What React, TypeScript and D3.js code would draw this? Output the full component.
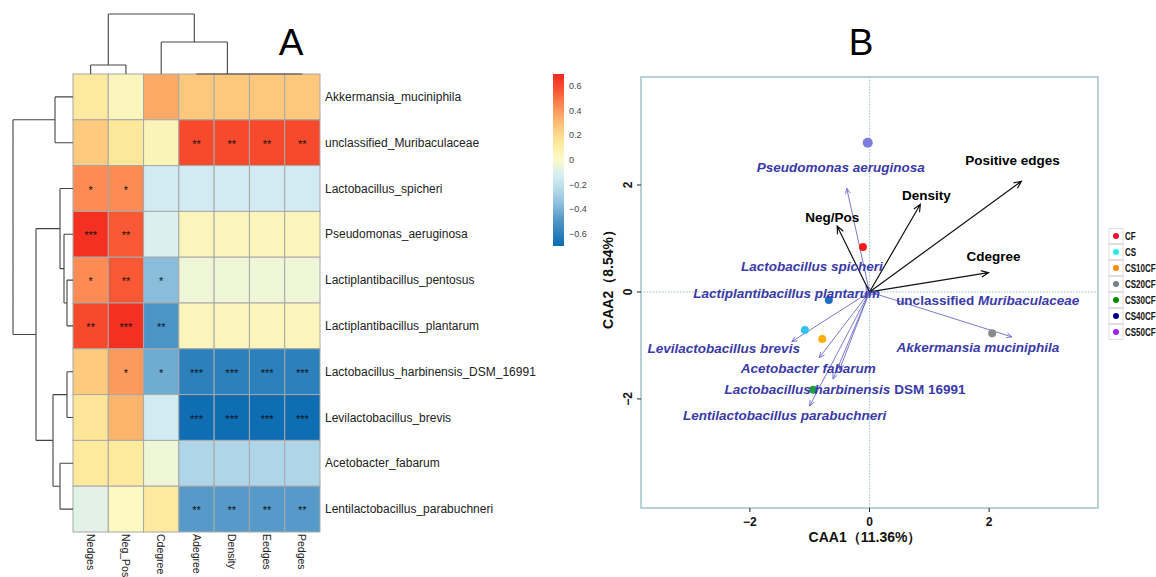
import React from "react";
import * as d3 from "d3";

// ---------- Panel A: correlation heatmap ----------
const species = [
  "Akkermansia_muciniphila",
  "unclassified_Muribaculaceae",
  "Lactobacillus_spicheri",
  "Pseudomonas_aeruginosa",
  "Lactiplantibacillus_pentosus",
  "Lactiplantibacillus_plantarum",
  "Lactobacillus_harbinensis_DSM_16991",
  "Levilactobacillus_brevis",
  "Acetobacter_fabarum",
  "Lentilactobacillus_parabuchneri",
];
const metrics = ["Nedges", "Neg_Pos", "Cdegree", "Adegree", "Density", "Eedges", "Pedges"];

const corr = [
  [0.13, 0.04, 0.36, 0.27, 0.27, 0.27, 0.27],
  [0.26, 0.15, 0.05, 0.6, 0.6, 0.6, 0.6],
  [0.44, 0.44, -0.14, -0.14, -0.14, -0.14, -0.14],
  [0.68, 0.56, -0.11, 0.04, 0.04, 0.04, 0.04],
  [0.44, 0.56, -0.36, -0.04, -0.04, -0.04, -0.04],
  [0.6, 0.68, -0.5, 0.04, 0.04, 0.04, 0.04],
  [0.26, 0.4, -0.42, -0.6, -0.6, -0.6, -0.6],
  [0.16, 0.33, -0.14, -0.69, -0.69, -0.69, -0.69],
  [0.14, 0.14, -0.04, -0.26, -0.26, -0.26, -0.26],
  [-0.08, 0.02, 0.13, -0.48, -0.48, -0.48, -0.48],
];
const signif = [
  ["", "", "", "", "", "", ""],
  ["", "", "", "**", "**", "**", "**"],
  ["*", "*", "", "", "", "", ""],
  ["***", "**", "", "", "", "", ""],
  ["*", "**", "*", "", "", "", ""],
  ["**", "***", "**", "", "", "", ""],
  ["", "*", "*", "***", "***", "***", "***"],
  ["", "", "", "***", "***", "***", "***"],
  ["", "", "", "", "", "", ""],
  ["", "", "", "**", "**", "**", "**"],
];

// dendrograms: [height, left, right] or leaf index
type Tree = number | [number, Tree, Tree];
const rowTree: Tree = [60, [18, 0, 1], [37, [13, 2, [9, 3, [6, 4, 5]]], [20, [6, 6, 7], [13, 8, 9]]]];
const colTree: Tree = [60, [9, 0, 1], [32, 2, [0, 3, [0, 4, [0, 5, 6]]]]];

const legendTicks = [0.6, 0.4, 0.2, 0, -0.2, -0.4, -0.6];
const colorStops = [-0.7, -0.5, -0.3, -0.12, 0, 0.15, 0.3, 0.45, 0.58, 0.7];
const colorRamp = ["#0b6bb2", "#4d94c6", "#a3cfe4", "#d8eef5", "#fafac8", "#fee89a", "#fdbf74", "#fc8752", "#f8502f", "#f32a1f"];

// ---------- Panel B: CCA biplot ----------
const groups = ["CF", "CS", "CS10CF", "CS20CF", "CS30CF", "CS40CF", "CS50CF"];
const groupColors = ["#e8102a", "#22eef2", "#ff8c00", "#708090", "#008b00", "#00008b", "#a020f0"];
const pointColors = ["#ff1a1a", "#33c3f2", "#ffae00", "#8a8a8e", "#1fa040", "#1f6cc2", "#7b7be0"];
const sampleX = [-0.11, -1.08, -0.79, 2.05, -0.94, -0.68, -0.03];
const sampleY = [0.84, -0.71, -0.88, -0.77, -1.83, -0.15, 2.79];

const envNames = ["Positive edges", "Density", "Cdegree", "Neg/Pos"];
const envX = [2.54, 0.85, 1.99, -0.54];
const envY = [2.07, 1.64, 0.36, 1.23];
const envNudge = [[-9, -21], [6, -9], [5, -17], [-5, -9]];

const taxaNames = [
  "Pseudomonas aeruginosa",
  "Lactobacillus spicheri",
  "Lactiplantibacillus plantarum",
  "unclassified Muribaculaceae",
  "Akkermansia muciniphila",
  "Levilactobacillus brevis",
  "Acetobacter fabarum",
  "Lactobacillus harbinensis DSM 16991",
  "Lentilactobacillus parabuchneri",
  "",
];
const taxaX = [-0.38, -0.06, -0.08, 0.12, 2.38, -1.3, -0.84, -0.61, -1.0, -0.5];
const taxaY = [1.94, 0.12, -0.03, -0.04, -0.84, -0.93, -1.23, -1.63, -2.13, -1.45];
const taxaNudge = [[-6, -21], [-54, -20], [-78, -1], [111, 6], [-34, 10], [-68, 6], [-11, 10], [12, 10], [-25, 9], [0, 0]];
const plainWords = ["unclassified", "DSM", "16991"];

const xTicks = [-2, 0, 2];
const yTicks = [2, 0, -2];

function arrowPath(x1: number, y1: number, x2: number, y2: number, len = 7, ang = 0.42) {
  const a = Math.atan2(y2 - y1, x2 - x1);
  return (
    `M${x1},${y1}L${x2},${y2}` +
    `M${x2 - len * Math.cos(a - ang)},${y2 - len * Math.sin(a - ang)}L${x2},${y2}` +
    `L${x2 - len * Math.cos(a + ang)},${y2 - len * Math.sin(a + ang)}`
  );
}

// Walk a dendrogram; returns leaf-axis position and height of the node, collecting segments.
function layoutTree(
  t: Tree,
  leafPos: (i: number) => number,
  segs: string[],
  toPath: (pos: number, h: number, pos2: number, h2: number) => string
): { pos: number; h: number } {
  if (typeof t === "number") return { pos: leafPos(t), h: 0 };
  const [h, l, r] = t;
  const a = layoutTree(l, leafPos, segs, toPath);
  const b = layoutTree(r, leafPos, segs, toPath);
  segs.push(toPath(a.pos, a.h, a.pos, h));
  segs.push(toPath(b.pos, b.h, b.pos, h));
  segs.push(toPath(a.pos, h, b.pos, h));
  return { pos: (a.pos + b.pos) / 2, h };
}

const FONT = "'Liberation Sans', Arial, Helvetica, sans-serif";

export default function App() {
  // heatmap geometry
  const hx0 = 73, hx1 = 320, hy0 = 74, hy1 = 532;
  const xBand = d3.scaleBand<number>().domain(d3.range(metrics.length)).range([hx0, hx1]);
  const yBand = d3.scaleBand<number>().domain(d3.range(species.length)).range([hy0, hy1]);
  const color = d3.scaleLinear<string>().domain(colorStops).range(colorRamp).interpolate(d3.interpolateRgb).clamp(true);

  const rowH = d3.scaleLinear().domain([0, 60]).range([hx0, hx0 - 60]);
  const colH = d3.scaleLinear().domain([0, 60]).range([hy0, hy0 - 60]);
  const rowSegs: string[] = [];
  layoutTree(rowTree, (i) => yBand(i)! + yBand.bandwidth() / 2, rowSegs, (p, h, p2, h2) =>
    `M${rowH(h)},${p}L${rowH(h2)},${p2}`
  );
  const colSegs: string[] = [];
  layoutTree(colTree, (i) => xBand(i)! + xBand.bandwidth() / 2, colSegs, (p, h, p2, h2) =>
    `M${p},${colH(h)}L${p2},${colH(h2)}`
  );

  // color key
  const keyY = d3.scaleLinear().domain([-0.7, 0.7]).range([246, 74]);
  const keyStops = d3.range(0, 1.0001, 0.05).map((t) => ({ t, c: color(-0.7 + 1.4 * t) }));

  // biplot geometry
  const bx0 = 641, bx1 = 1098, by0 = 77, by1 = 508;
  const sx = d3.scaleLinear().domain([-3.82, 3.82]).range([bx0, bx1]);
  const sy = d3.scaleLinear().domain([-4.04, 4.02]).range([by1, by0]);
  const ox = sx(0), oy = sy(0);
  const frame = "#9ec4cc";

  return (
    <svg
      width={1156}
      height={577}
      style={{ position: "absolute", left: 0, top: 0, background: "#fff" }}
      fontFamily={FONT}
    >
      <rect x={0} y={0} width={1156} height={577} fill="#fff" />

      {/* ---- Panel A ---- */}
      <text x={291} y={55} fontSize={37} textAnchor="middle" fill="#000">A</text>

      {corr.map((row, i) =>
        row.map((v, j) => (
          <rect
            key={`c${i}-${j}`}
            x={xBand(j)}
            y={yBand(i)}
            width={xBand.bandwidth()}
            height={yBand.bandwidth()}
            fill={color(v)}
            stroke="#a8a8a8"
            strokeWidth={1}
          />
        ))
      )}
      {signif.map((row, i) =>
        row.map((s, j) =>
          s ? (
            <text
              key={`s${i}-${j}`}
              x={xBand(j)! + xBand.bandwidth() / 2}
              y={yBand(i)! + yBand.bandwidth() / 2 + 5}
              fontSize={11}
              textAnchor="middle"
              fill="#111"
            >
              {s}
            </text>
          ) : null
        )
      )}
      <path d={rowSegs.join("")} stroke="#444" strokeWidth={1.1} fill="none" />
      <path d={colSegs.join("")} stroke="#444" strokeWidth={1.1} fill="none" />

      {species.map((s, i) => (
        <text key={s} x={hx1 + 5} y={yBand(i)! + yBand.bandwidth() / 2 + 4} fontSize={12} fill="#222">
          {s}
        </text>
      ))}
      {metrics.map((m, j) => (
        <text
          key={m}
          transform={`translate(${xBand(j)! + xBand.bandwidth() / 2 - 4},${hy1 + 2}) rotate(90)`}
          fontSize={10.5}
          fill="#222"
        >
          {m}
        </text>
      ))}

      <defs>
        <linearGradient id="key" x1="0" y1="1" x2="0" y2="0">
          {keyStops.map((s) => (
            <stop key={s.t} offset={s.t} stopColor={s.c} />
          ))}
        </linearGradient>
      </defs>
      <rect x={553} y={74} width={11} height={172} fill="url(#key)" />
      {legendTicks.map((t) => (
        <text key={t} x={569} y={keyY(t) + 3} fontSize={9} fill="#444">
          {t < 0 ? `\u2212${Math.abs(t)}` : `${t}`}
        </text>
      ))}

      {/* ---- Panel B ---- */}
      <text x={861} y={55} fontSize={37} textAnchor="middle" fill="#000">B</text>

      <line x1={ox} x2={ox} y1={by0} y2={by1} stroke={frame} strokeWidth={1} strokeDasharray="1.5,1.5" />
      <line x1={bx0} x2={bx1} y1={oy} y2={oy} stroke={frame} strokeWidth={1} strokeDasharray="1.5,1.5" />
      <rect x={bx0} y={by0} width={bx1 - bx0} height={by1 - by0} fill="none" stroke={frame} strokeWidth={1.5} />

      {xTicks.map((t) => (
        <g key={`x${t}`}>
          <line x1={sx(t)} x2={sx(t)} y1={by1} y2={by1 + 4} stroke="#222" strokeWidth={1} />
          <text x={sx(t)} y={by1 + 18} fontSize={12} fontWeight="bold" textAnchor="middle" fill="#111">
            {t < 0 ? `\u2212${Math.abs(t)}` : t}
          </text>
        </g>
      ))}
      {yTicks.map((t) => (
        <g key={`y${t}`}>
          <line x1={bx0 - 4} x2={bx0} y1={sy(t)} y2={sy(t)} stroke="#222" strokeWidth={1} />
          <text
            transform={`translate(${bx0 - 9},${sy(t)}) rotate(-90)`}
            fontSize={12}
            fontWeight="bold"
            textAnchor="middle"
            fill="#111"
          >
            {t < 0 ? `\u2212${Math.abs(t)}` : t}
          </text>
        </g>
      ))}
      <text x={865} y={542} fontSize={14} fontWeight="bold" textAnchor="middle" fill="#111">
        CAA1（11.36%）
      </text>
      <text transform={`translate(613,276) rotate(-90)`} fontSize={14} fontWeight="bold" textAnchor="middle" fill="#111">
        CAA2（8.54%）
      </text>

      {/* taxa arrows */}
      {taxaNames.map((n, i) => (
        <path
          key={`ta${i}`}
          d={arrowPath(ox, oy, sx(taxaX[i]), sy(taxaY[i]), 6)}
          stroke="#6b6bc8"
          strokeWidth={0.9}
          fill="none"
        />
      ))}
      {/* environmental arrows */}
      {envNames.map((n, i) => (
        <path
          key={`ea${i}`}
          d={arrowPath(ox, oy, sx(envX[i]), sy(envY[i]), 8)}
          stroke="#111"
          strokeWidth={1.2}
          fill="none"
        />
      ))}

      {/* samples */}
      {groups.map((g, i) => (
        <circle key={g} cx={sx(sampleX[i])} cy={sy(sampleY[i])} r={g === "CS50CF" ? 5 : 4} fill={pointColors[i]} />
      ))}

      {taxaNames.map((n, i) =>
        n ? (
          <text
            key={`tl${i}`}
            x={sx(taxaX[i]) + taxaNudge[i][0]}
            y={sy(taxaY[i]) + taxaNudge[i][1] + 5}
            fontSize={13.5}
            fontWeight="bold"
            textAnchor="middle"
            fill="#3a3aa8"
          >
            {n.split(" ").map((w, k) => (
              <tspan key={k} fontStyle={plainWords.includes(w) ? "normal" : "italic"}>
                {(k ? " " : "") + w}
              </tspan>
            ))}
          </text>
        ) : null
      )}
      {envNames.map((n, i) => (
        <text
          key={`el${i}`}
          x={sx(envX[i]) + envNudge[i][0]}
          y={sy(envY[i]) + envNudge[i][1] + 5}
          fontSize={13.5}
          fontWeight="bold"
          textAnchor="middle"
          fill="#000"
        >
          {n}
        </text>
      ))}

      {/* group key */}
      {groups.map((g, i) => {
        const cy = 236 + i * 16;
        return (
          <g key={`lg${g}`}>
            <rect x={1109} y={cy - 7.5} width={14} height={15} fill="#fff" stroke="#ddd" strokeWidth={1} />
            <circle cx={1116} cy={cy} r={3} fill={groupColors[i]} />
            <text
              transform={`translate(1125,${cy + 3.5}) scale(0.8,1)`}
              fontSize={10}
              fontWeight="bold"
              fill="#111"
            >
              {g}
            </text>
          </g>
        );
      })}
    </svg>
  );
}
